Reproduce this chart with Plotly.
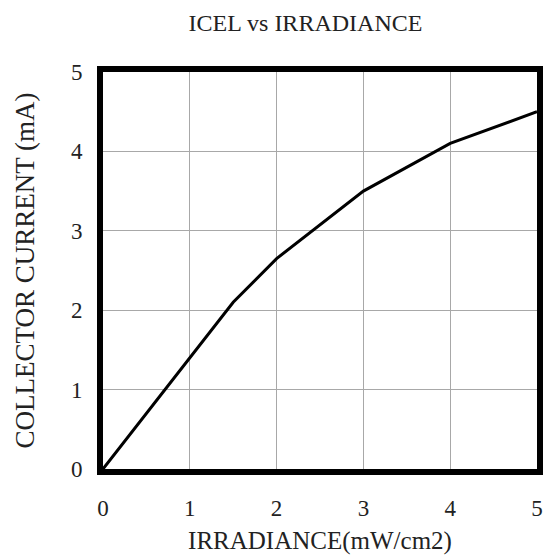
import plotly.graph_objects as go

irradiance = [0, 1.5, 2, 3, 4, 5]
current = [0, 2.1, 2.65, 3.5, 4.1, 4.5]
x_ticks = [0, 1, 2, 3, 4, 5]
y_ticks = [0, 1, 2, 3, 4, 5]

FONT = "Liberation Serif"

fig = go.Figure()
fig.add_trace(go.Scatter(x=irradiance, y=current, mode="lines",
                         line=dict(color="black", width=3), showlegend=False))

fig.update_layout(
    width=555, height=559,
    margin=dict(l=95, r=26, t=64, b=98),
    paper_bgcolor="white", plot_bgcolor="white",
    font=dict(family=FONT, color="#222"),
    title=dict(text="ICEL vs IRRADIANCE", x=(305.5 - 8) / 555, xanchor="center",
               yref="container", y=1 - 15 / 559, yanchor="middle",
               xref="container", font=dict(size=24, family=FONT, color="#222")),
)
fig.update_xaxes(range=[0, 5], tickvals=x_ticks, showgrid=True, gridcolor="#a8a8a8", gridwidth=1,
                 showline=True, linecolor="black", linewidth=6, mirror=True, zeroline=False,
                 ticks="", tickfont=dict(size=23, family=FONT), ticklabelstandoff=13,
                 title=dict(text="IRRADIANCE(mW/cm2)", font=dict(size=25, family=FONT), standoff=14))
fig.update_yaxes(range=[0, 5], tickvals=y_ticks, showgrid=True, gridcolor="#a8a8a8", gridwidth=1,
                 showline=True, linecolor="black", linewidth=6, mirror=True, zeroline=False,
                 ticks="", tickfont=dict(size=23, family=FONT), ticklabelstandoff=10,
                 title=dict(text="COLLECTOR CURRENT (mA)", font=dict(size=27, family=FONT), standoff=30))

fig.write_html("out.html")
